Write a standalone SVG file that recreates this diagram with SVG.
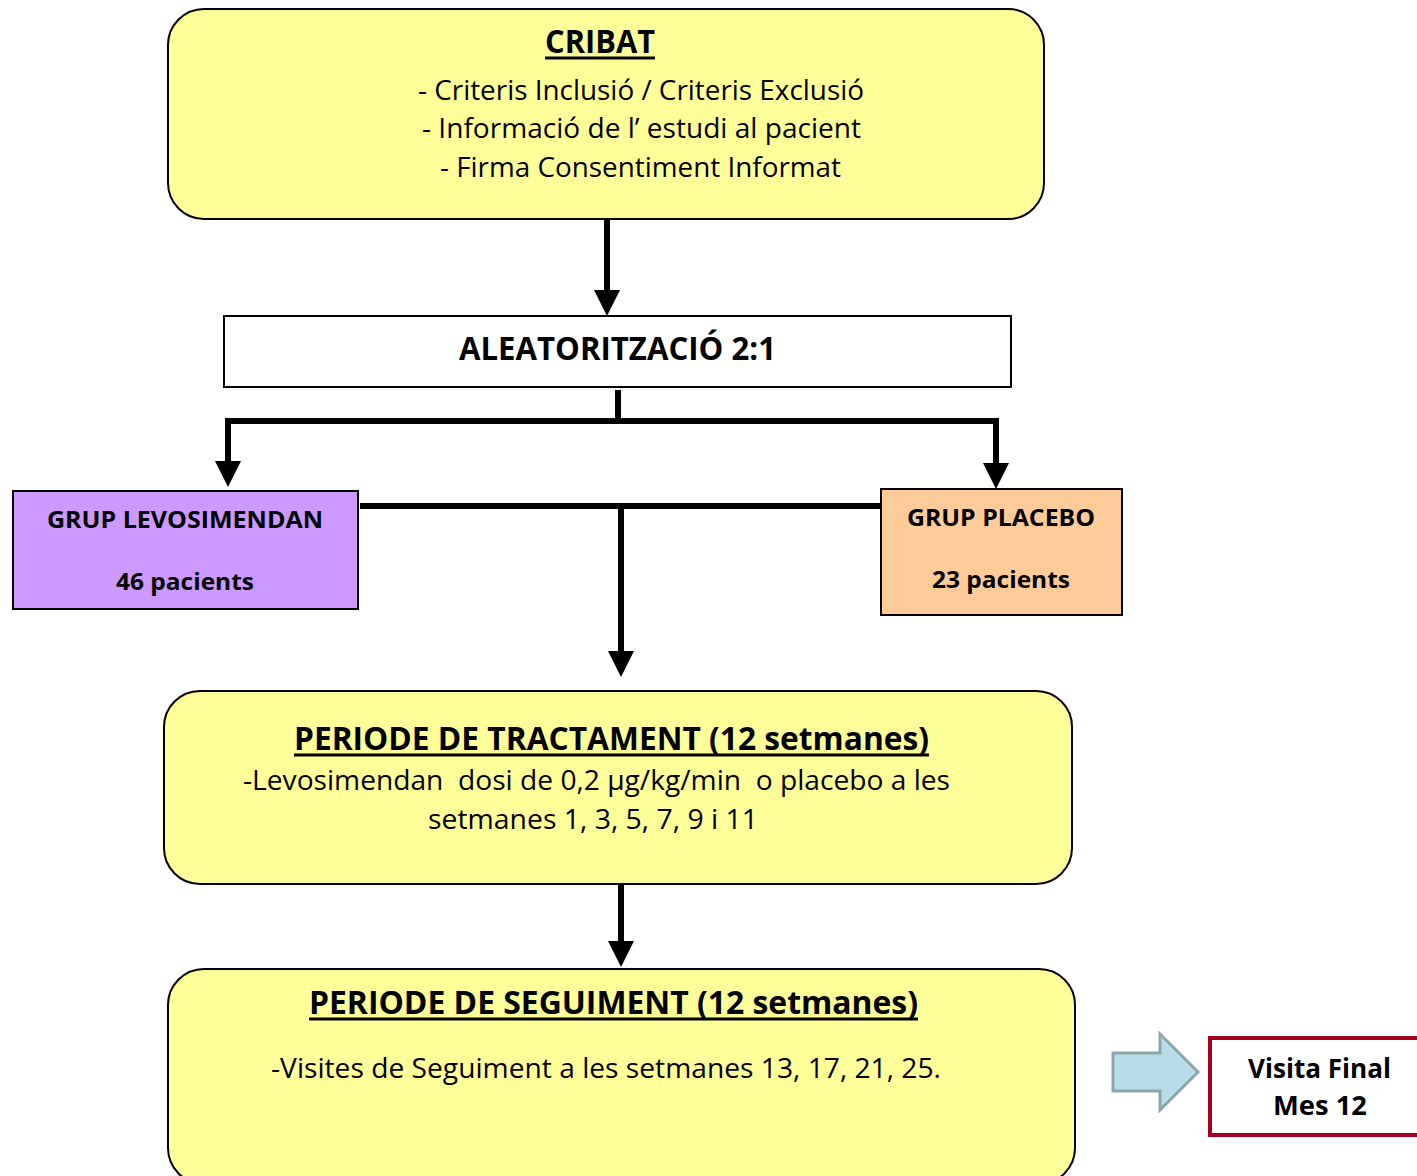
<svg xmlns="http://www.w3.org/2000/svg" width="1417" height="1176" viewBox="0 0 1417 1176">
<defs>
<marker id="ah" markerUnits="userSpaceOnUse" markerWidth="26" markerHeight="26" refX="6" refY="13" orient="auto">
<path d="M0,0 L26,13 L0,26 z" fill="#000"/>
</marker>
<style>
text{font-family:"Open Sans","Noto Sans","Liberation Sans",sans-serif;fill:#000}
.t{font-weight:bold;font-size:32px}
.b{font-size:27px}
.g{font-weight:bold;font-size:23px}
.v{font-weight:bold;font-size:26px}
.conn{stroke:#000;stroke-width:6;fill:none}
.box{stroke:#000;stroke-width:2}
.ul{stroke:#000;stroke-width:3}
</style>
</defs>
<rect width="1417" height="1176" fill="#fff"/>
<g id="connectors">
<path class="conn" d="M607,219 V296" marker-end="url(#ah)"/>
<path class="conn" d="M618,390 V421"/>
<path class="conn" d="M225,421 H999"/>
<path class="conn" d="M228,418 V467" marker-end="url(#ah)"/>
<path class="conn" d="M996,418 V469" marker-end="url(#ah)"/>
<path class="conn" d="M360,506 H881"/>
<path class="conn" d="M621,506 V657" marker-end="url(#ah)"/>
<path class="conn" d="M621,884 V947" marker-end="url(#ah)"/>
</g>
<g id="cribat">
<rect class="box" x="168" y="9" width="876" height="210" rx="36" fill="#FFFF99"/>
<text class="t" x="545" y="53" textLength="110" lengthAdjust="spacingAndGlyphs">CRIBAT</text>
<line class="ul" x1="545" y1="58" x2="655" y2="58"/>
<text class="b" x="418" y="100" textLength="446" lengthAdjust="spacingAndGlyphs">- Criteris Inclusió / Criteris Exclusió</text>
<text class="b" x="422" y="138" textLength="439" lengthAdjust="spacingAndGlyphs">- Informació de l’ estudi al pacient</text>
<text class="b" x="440" y="177" textLength="401" lengthAdjust="spacingAndGlyphs">- Firma Consentiment Informat</text>
</g>
<g id="aleatoritzacio">
<rect class="box" x="224" y="316" width="787" height="71" fill="#fff"/>
<text class="t" x="459" y="360" textLength="317" lengthAdjust="spacingAndGlyphs">ALEATORITZACIÓ 2:1</text>
</g>
<g id="levosimendan">
<rect class="box" x="13" y="491" width="345" height="118" fill="#CC99FF"/>
<text class="g" x="47" y="528" textLength="276" lengthAdjust="spacingAndGlyphs">GRUP LEVOSIMENDAN</text>
<text class="g" x="116" y="590" textLength="138" lengthAdjust="spacingAndGlyphs">46 pacients</text>
</g>
<g id="placebo">
<rect class="box" x="881" y="489" width="241" height="126" fill="#FFCC99"/>
<text class="g" x="907" y="526" textLength="188" lengthAdjust="spacingAndGlyphs">GRUP PLACEBO</text>
<text class="g" x="932" y="588" textLength="138" lengthAdjust="spacingAndGlyphs">23 pacients</text>
</g>
<g id="tractament">
<rect class="box" x="164" y="691" width="908" height="193" rx="36" fill="#FFFF99"/>
<text class="t" x="294" y="750" textLength="635" lengthAdjust="spacingAndGlyphs">PERIODE DE TRACTAMENT (12 setmanes)</text>
<line class="ul" x1="294" y1="755" x2="929" y2="755"/>
<text class="b" x="243" y="790" textLength="707" lengthAdjust="spacingAndGlyphs" xml:space="preserve">-Levosimendan  dosi de 0,2 µg/kg/min  o placebo a les</text>
<text class="b" x="428" y="829" textLength="330" lengthAdjust="spacingAndGlyphs">setmanes 1, 3, 5, 7, 9 i 11</text>
</g>
<g id="seguiment">
<rect class="box" x="168" y="969" width="907" height="215" rx="36" fill="#FFFF99"/>
<text class="t" x="309" y="1014" textLength="609" lengthAdjust="spacingAndGlyphs">PERIODE DE SEGUIMENT (12 setmanes)</text>
<line class="ul" x1="309" y1="1019" x2="918" y2="1019"/>
<text class="b" x="271" y="1078" textLength="670" lengthAdjust="spacingAndGlyphs">-Visites de Seguiment a les setmanes 13, 17, 21, 25.</text>
</g>
<g id="block-arrow">
<path d="M1113,1053 H1160 V1034 L1198,1072 L1160,1110 V1091 H1113 z" fill="#B7DEE8" stroke="#8FA6A8" stroke-width="3" stroke-linejoin="miter"/>
</g>
<g id="visita-final">
<rect x="1210" y="1038" width="212" height="97" fill="#fff" stroke="#A50021" stroke-width="4"/>
<text class="v" x="1248" y="1078" textLength="143" lengthAdjust="spacingAndGlyphs">Visita Final</text>
<text class="v" x="1273" y="1115" textLength="94" lengthAdjust="spacingAndGlyphs">Mes 12</text>
</g>
</svg>
